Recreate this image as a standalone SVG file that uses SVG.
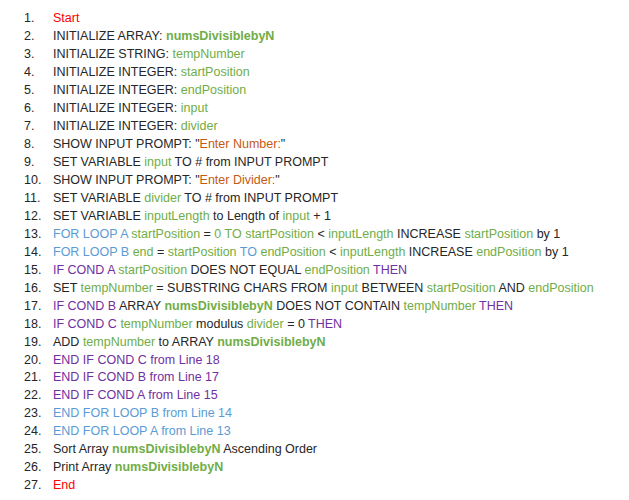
<svg xmlns="http://www.w3.org/2000/svg" width="629" height="500" viewBox="0 0 629 500">
<style>
text{font-family:"Liberation Sans",Arial,sans-serif;font-size:12.5px;fill:#262626}
.r{fill:#ff0000}.g{fill:#70ad47}.b{font-weight:bold;fill:#70ad47}.o{fill:#c55a11}.u{fill:#5b9bd5}.p{fill:#7030a0}
</style>
<rect width="629" height="500" fill="#fff"/>
<g id="numbers">
<text x="24" y="22">1.</text><text x="24" y="40">2.</text><text x="24" y="58">3.</text><text x="24" y="76">4.</text><text x="24" y="94">5.</text><text x="24" y="112">6.</text><text x="24" y="130">7.</text><text x="24" y="148">8.</text><text x="24" y="166">9.</text><text x="24" y="184">10.</text><text x="24" y="202">11.</text><text x="24" y="220">12.</text><text x="24" y="238">13.</text><text x="24" y="256">14.</text><text x="24" y="274">15.</text><text x="24" y="292">16.</text><text x="24" y="310">17.</text><text x="24" y="328">18.</text><text x="24" y="346">19.</text><text x="24" y="364">20.</text><text x="24" y="381">21.</text><text x="24" y="399">22.</text><text x="24" y="417">23.</text><text x="24" y="435">24.</text><text x="24" y="453">25.</text><text x="24" y="471">26.</text><text x="24" y="489">27.</text>
</g>
<g id="lines">
<text x="53" y="22" class="r">Start</text>
<text x="53" y="40">INITIALIZE ARRAY: <tspan class="b">numsDivisiblebyN</tspan></text>
<text x="53" y="58">INITIALIZE STRING: <tspan class="g">tempNumber</tspan></text>
<text x="53" y="76">INITIALIZE INTEGER: <tspan class="g">startPosition</tspan></text>
<text x="53" y="94">INITIALIZE INTEGER: <tspan class="g">endPosition</tspan></text>
<text x="53" y="112">INITIALIZE INTEGER: <tspan class="g">input</tspan></text>
<text x="53" y="130">INITIALIZE INTEGER: <tspan class="g">divider</tspan></text>
<text x="53" y="148">SHOW INPUT PROMPT: "<tspan class="o">Enter Number:</tspan>"</text>
<text x="53" y="166">SET VARIABLE <tspan class="g">input</tspan> TO # from INPUT PROMPT</text>
<text x="53" y="184">SHOW INPUT PROMPT: "<tspan class="o">Enter Divider:</tspan>"</text>
<text x="53" y="202">SET VARIABLE <tspan class="g">divider</tspan> TO # from INPUT PROMPT</text>
<text x="53" y="220">SET VARIABLE <tspan class="g">inputLength</tspan> to Length of <tspan class="g">input</tspan> + 1</text>
<text x="53" y="238"><tspan class="u">FOR LOOP A</tspan> <tspan class="g">startPosition</tspan> = <tspan class="g">0 TO startPosition</tspan> &lt; <tspan class="g">inputLength</tspan> INCREASE <tspan class="g">startPosition</tspan> by 1</text>
<text x="53" y="256"><tspan class="u">FOR LOOP B</tspan> <tspan class="g">end</tspan> = <tspan class="g">startPosition</tspan> <tspan class="u">TO</tspan> <tspan class="g">endPosition</tspan> &lt; <tspan class="g">inputLength</tspan> INCREASE <tspan class="g">endPosition</tspan> by 1</text>
<text x="53" y="274"><tspan class="p">IF COND A</tspan> <tspan class="g">startPosition</tspan> DOES NOT EQUAL <tspan class="g">endPosition</tspan> <tspan class="p">THEN</tspan></text>
<text x="53" y="292">SET <tspan class="g">tempNumber</tspan> = SUBSTRING CHARS FROM <tspan class="g">input</tspan> BETWEEN <tspan class="g">startPosition</tspan> AND <tspan class="g">endPosition</tspan></text>
<text x="53" y="310"><tspan class="p">IF COND B</tspan> ARRAY <tspan class="b">numsDivisiblebyN</tspan> DOES NOT CONTAIN <tspan class="g">tempNumber</tspan> <tspan class="p">THEN</tspan></text>
<text x="53" y="328"><tspan class="p">IF COND C</tspan> <tspan class="g">tempNumber</tspan> modulus <tspan class="g">divider</tspan> = 0 <tspan class="p">THEN</tspan></text>
<text x="53" y="346">ADD <tspan class="g">tempNumber</tspan> to ARRAY <tspan class="b">numsDivisiblebyN</tspan></text>
<text x="53" y="364" class="p">END IF COND C from Line 18</text>
<text x="53" y="381" class="p">END IF COND B from Line 17</text>
<text x="53" y="399" class="p">END IF COND A from Line 15</text>
<text x="53" y="417" class="u">END FOR LOOP B from Line 14</text>
<text x="53" y="435" class="u">END FOR LOOP A from Line 13</text>
<text x="53" y="453">Sort Array <tspan class="b">numsDivisiblebyN</tspan> Ascending Order</text>
<text x="53" y="471">Print Array <tspan class="b">numsDivisiblebyN</tspan></text>
<text x="53" y="489" class="r">End</text>
</g>
</svg>
